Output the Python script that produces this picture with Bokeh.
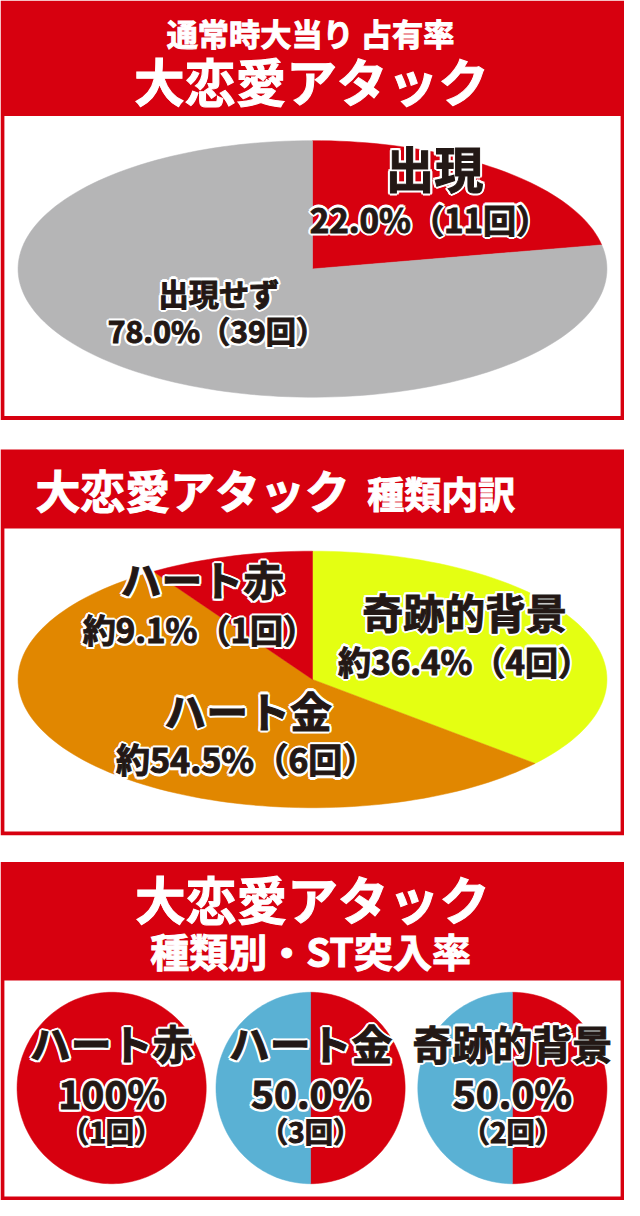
import numpy as np
from bokeh.plotting import figure
from bokeh.models import Range1d
from bokeh.core.properties import value
from bokeh.embed import file_html
from bokeh.resources import INLINE

# ---------------- data ----------------
title1_line1 = "通常時大当り 占有率"
title_main = "大恋愛アタック"
title2_sub = "種類内訳"
title3_sub = "種類別・ST突入率"

share_labels = ["出現", "出現せず"]
share_counts = [11, 39]
share_pct = [22.0, 78.0]
share_colors = ["#D7000F", "#B5B5B6"]

type_labels = ["奇跡的背景", "ハート金", "ハート赤"]
type_counts = [4, 6, 1]
type_pct = [36.4, 54.5, 9.1]
type_colors = ["#E4FF12", "#E18700", "#D7000F"]

st_labels = ["ハート赤", "ハート金", "奇跡的背景"]
st_rate = [100.0, 50.0, 50.0]
st_counts = [1, 3, 2]
st_pct_text = ["100%", "50.0%", "50.0%"]
ST_COLOR = "#D7000F"
NON_ST_COLOR = "#5AB1D4"

RED = "#D7000F"
INK = "#231815"
FONT = value("Noto Sans CJK JP")
W, H = 624, 1200
S = W / 640.0  # px per reference px (font scaling)

p = figure(width=W, height=H, x_range=Range1d(0, 640), y_range=Range1d(1216, 0),
           output_backend="svg", toolbar_location=None, min_border=0,
           background_fill_color="white", border_fill_color="white")
p.axis.visible = False
p.grid.visible = False
p.outline_line_color = None


def wedge_pts(cx, cy, rx, ry, f0, f1, n=200):
    t = np.linspace(f0, f1, max(3, int(n * (f1 - f0)) + 2)) * 2 * np.pi
    xs = cx + rx * np.sin(t)
    ys = cy - ry * np.cos(t)
    if f1 - f0 < 0.9999:
        xs = np.concatenate([[cx], xs, [cx]])
        ys = np.concatenate([[cy], ys, [cy]])
    return list(xs), list(ys)


def pie(cx, cy, rx, ry, vals, colors):
    fr = np.array(vals, dtype=float) / np.sum(vals)
    ends = np.cumsum(fr)
    starts = ends - fr
    xs, ys = [], []
    for a, b in zip(starts, ends):
        x, y = wedge_pts(cx, cy, rx, ry, a, b)
        xs.append(x)
        ys.append(y)
    p.patches(xs=xs, ys=ys, fill_color=colors, line_color=colors, line_width=0.5)


HALO = [(-1.6, -1.6), (1.6, -1.6), (-1.6, 1.6), (1.6, 1.6),
        (0, -2.2), (0, 2.2), (-2.2, 0), (2.2, 0)]


def txt(x, y, s, size, color=INK, outline=True):
    kw = dict(text_font=FONT, text_font_style="bold", text_align="center",
              text_baseline="middle", text_font_size=f"{size * S:.1f}px")
    if outline:
        n = len(HALO)
        p.text(x=[x] * n, y=[y] * n, text=[s] * n,
               x_offset=[o[0] for o in HALO], y_offset=[o[1] for o in HALO],
               text_color="white", text_outline_color="white", **kw)
    # outline in the text's own colour makes the glyphs heavier
    p.text(x=[x], y=[y], text=[s], text_color=color,
           text_outline_color=color, **kw)


# ---------------- frames ----------------
frames_top = [0, 455, 873]
frames_bot = [425, 846, 1216]
inner_top = [117, 535, 993]
inner_bot = [421, 842, 1212]
p.quad(left=[0] * 3, right=[640] * 3, top=frames_top, bottom=frames_bot,
       fill_color=RED, line_color=None)
p.quad(left=[4] * 3, right=[636] * 3, top=inner_top, bottom=inner_bot,
       fill_color="white", line_color=None)

# ---------------- titles ----------------
txt(318, 32, title1_line1, 32, "white", outline=False)
txt(319, 81, title_main, 52, "white", outline=False)
txt(197, 496, title_main, 46, "white", outline=False)
txt(452, 499, title2_sub, 38, "white", outline=False)
txt(320, 909, title_main, 52, "white", outline=False)
txt(318, 962, title3_sub, 40, "white", outline=False)

# ---------------- section 1 ----------------
pie(320, 272, 302, 130, share_counts, share_colors)
txt(445, 168, share_labels[0], 50)
txt(440, 221, f"{share_pct[0]:.1f}%（{share_counts[0]}回）", 34)
txt(224, 296, share_labels[1], 31)
txt(222, 334, f"{share_pct[1]:.1f}%（{share_counts[1]}回）", 31)

# ---------------- section 2 ----------------
pie(320, 688, 302, 130, type_counts, type_colors)
name_pos = [(476, 619), (254, 718), (207, 586)]
pct_pos = [(476, 669), (252, 768), (204, 637)]
name_size = [42, 43, 42]
pct_size = [34, 35, 34]
for i in range(3):
    txt(*name_pos[i], type_labels[i], name_size[i])
    txt(*pct_pos[i], f"約{type_pct[i]:.1f}%（{type_counts[i]}回）", pct_size[i])

# ---------------- section 3 ----------------
cxs = [114, 318, 525]
for i in range(3):
    f = st_rate[i] / 100.0
    vals = [f, 1 - f] if f < 1 else [1.0]
    cols = [ST_COLOR, NON_ST_COLOR] if f < 1 else [ST_COLOR]
    pie(cxs[i], 1102, 97, 97, vals, cols)
    txt(cxs[i], 1056, st_labels[i], 42 if i < 2 else 41)
    txt(cxs[i], 1106, st_pct_text[i], 40)
    txt(cxs[i], 1145, f"（{st_counts[i]}回）", 29)

open("out.html", "w").write(file_html(p, INLINE))
